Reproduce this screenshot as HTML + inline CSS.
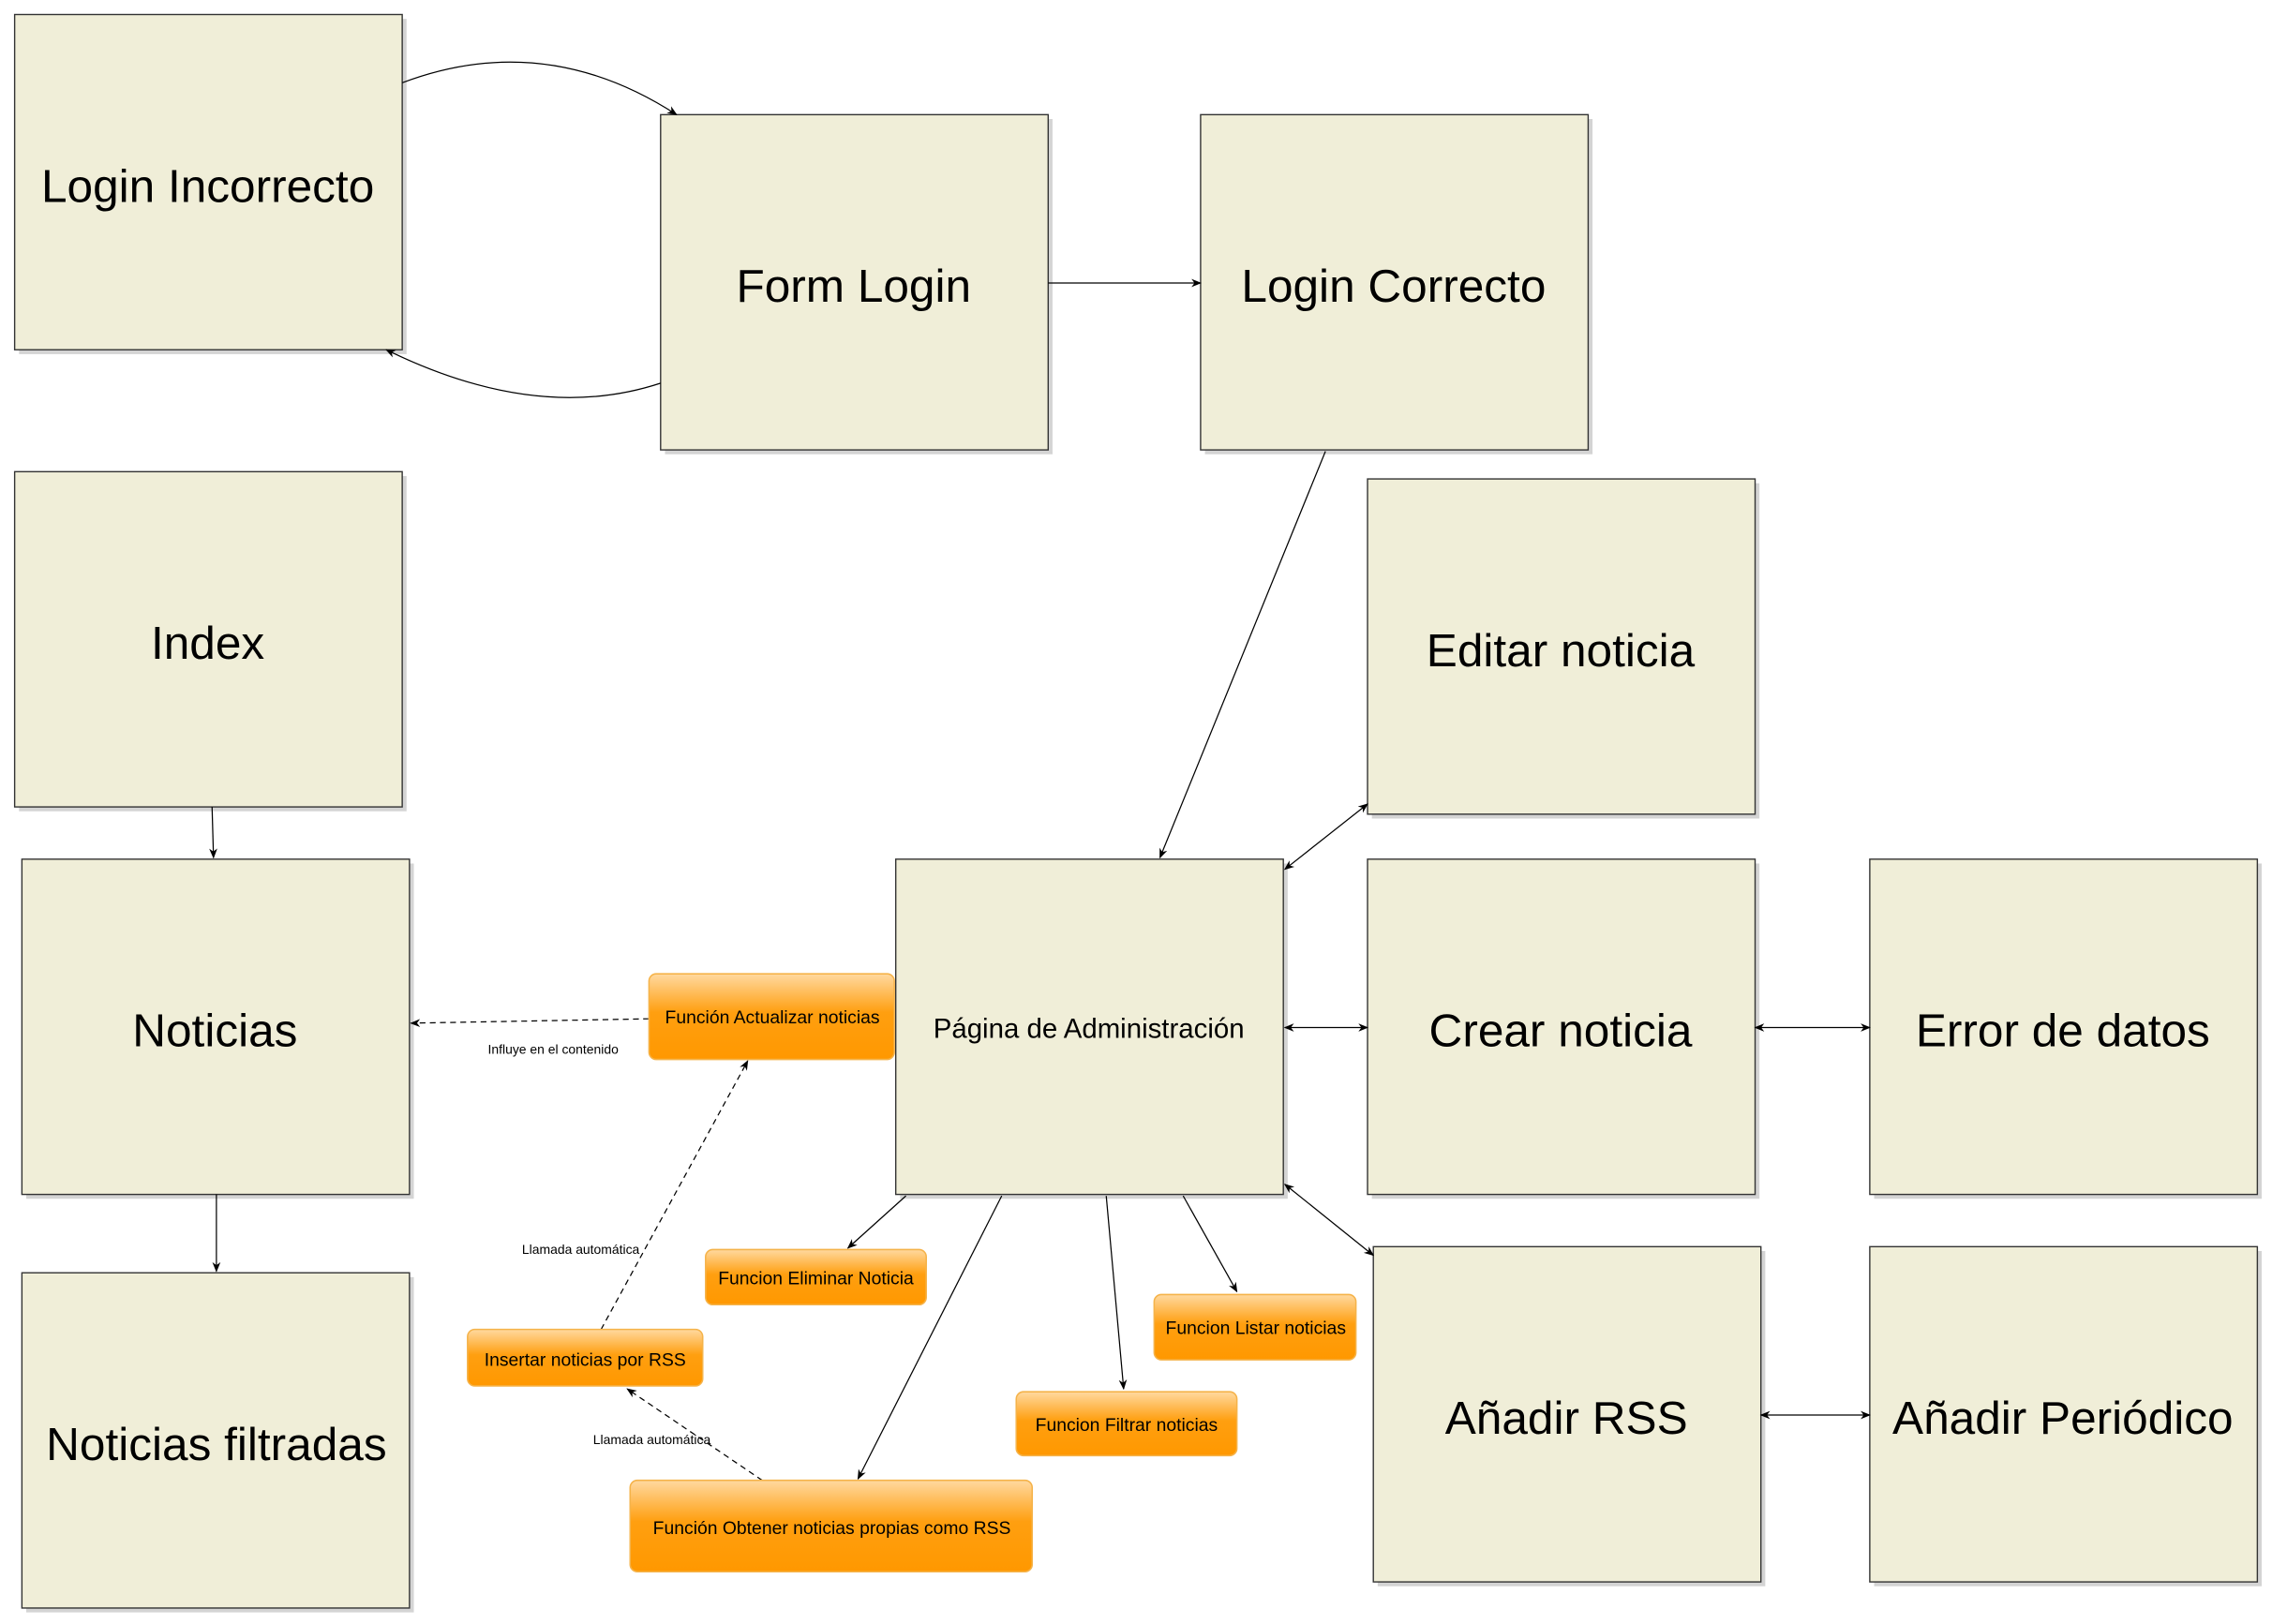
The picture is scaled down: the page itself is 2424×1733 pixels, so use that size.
<!DOCTYPE html>
<html><head><meta charset="utf-8"><style>html,body{margin:0;padding:0;background:#fff}svg{display:block}</style></head>
<body>
<svg width="2424" height="1733" viewBox="0 0 1565 1119" xmlns="http://www.w3.org/2000/svg" font-family="Liberation Sans, sans-serif">
<defs>
<linearGradient id="og" x1="0" y1="0" x2="0" y2="1">
<stop offset="0" stop-color="#ffd9a0"/><stop offset="0.45" stop-color="#ff9f10"/><stop offset="1" stop-color="#ff9800"/>
</linearGradient>
<marker id="a" viewBox="0 0 10 10" refX="9" refY="5" markerWidth="7" markerHeight="7" orient="auto-start-reverse" markerUnits="userSpaceOnUse"><path d="M0,1 L10,5 L0,9 L3,5 z" fill="#000"/></marker>
</defs>
<g id="boxes">
<g fill="#d4d4d4">
<rect x="13" y="13" width="267" height="231"/><rect x="458" y="82" width="267" height="231"/><rect x="830" y="82" width="267" height="231"/>
<rect x="13" y="328" width="267" height="231"/><rect x="945" y="333" width="267" height="231"/><rect x="18" y="595" width="267" height="231"/>
<rect x="620" y="595" width="267" height="231"/><rect x="945" y="595" width="267" height="231"/><rect x="1291" y="595" width="267" height="231"/>
<rect x="18" y="880" width="267" height="231"/><rect x="949" y="862" width="267" height="231"/><rect x="1291" y="862" width="267" height="231"/>
</g>
<g fill="#f0eed8" stroke="#333" stroke-width="0.9">
<rect x="10" y="10" width="267" height="231"/><rect x="455" y="79" width="267" height="231"/><rect x="827" y="79" width="267" height="231"/>
<rect x="10" y="325" width="267" height="231"/><rect x="942" y="330" width="267" height="231"/><rect x="15" y="592" width="267" height="231"/>
<rect x="617" y="592" width="267" height="231"/><rect x="942" y="592" width="267" height="231"/><rect x="1288" y="592" width="267" height="231"/>
<rect x="15" y="877" width="267" height="231"/><rect x="946" y="859" width="267" height="231"/><rect x="1288" y="859" width="267" height="231"/>
</g>
</g>
<g stroke="#000" stroke-width="0.8" fill="none">
<path d="M277,57 Q375,20 466,79" marker-end="url(#a)"/>
<path d="M455,264 Q370,292 266,241" marker-end="url(#a)"/>
<line x1="722" y1="195" x2="827" y2="195" marker-end="url(#a)"/>
<line x1="913" y1="311" x2="799" y2="591" marker-end="url(#a)"/>
<line x1="146" y1="556" x2="147" y2="591" marker-end="url(#a)"/>
<line x1="149" y1="823" x2="149" y2="876" marker-end="url(#a)"/>
<line x1="885" y1="599" x2="942" y2="554" marker-start="url(#a)" marker-end="url(#a)"/>
<line x1="885" y1="708" x2="942" y2="708" marker-start="url(#a)" marker-end="url(#a)"/>
<line x1="1209" y1="708" x2="1288" y2="708" marker-start="url(#a)" marker-end="url(#a)"/>
<line x1="885" y1="816" x2="946" y2="865" marker-start="url(#a)" marker-end="url(#a)"/>
<line x1="1213" y1="975" x2="1288" y2="975" marker-start="url(#a)" marker-end="url(#a)"/>
<line x1="624" y1="824" x2="584" y2="860" marker-end="url(#a)"/>
<line x1="690" y1="824" x2="591" y2="1019" marker-end="url(#a)"/>
<line x1="762" y1="824" x2="774" y2="957" marker-end="url(#a)"/>
<line x1="815" y1="824" x2="852" y2="890" marker-end="url(#a)"/>
<g stroke-dasharray="4,3">
<line x1="447" y1="702" x2="283" y2="705" marker-end="url(#a)"/>
<line x1="414" y1="916" x2="515" y2="731" marker-end="url(#a)"/>
<line x1="525" y1="1020" x2="432" y2="957" marker-end="url(#a)"/>
</g>
</g>
<g font-size="9" fill="#000" text-anchor="middle">
<text x="381" y="726">Influye en el contenido</text>
<text x="400" y="864">Llamada automática</text>
<text x="449" y="995">Llamada automática</text>
</g>
<g font-size="32" fill="#000" text-anchor="middle">
<text x="143" y="139">Login Incorrecto</text>
<text x="588" y="208">Form Login</text>
<text x="960" y="208">Login Correcto</text>
<text x="143" y="454">Index</text>
<text x="1075" y="459">Editar noticia</text>
<text x="148" y="721">Noticias</text>
<text x="1075" y="721">Crear noticia</text>
<text x="1421" y="721">Error de datos</text>
<text x="149" y="1006">Noticias filtradas</text>
<text x="1079" y="988">Añadir RSS</text>
<text x="1421" y="988">Añadir Periódico</text>
<text x="750" y="715" font-size="19">Página de Administración</text>
</g>
<g fill="url(#og)" stroke="#f5b34a" stroke-width="1">
<rect x="447" y="671" width="169" height="59" rx="5"/>
<rect x="486" y="861" width="152" height="38" rx="5"/>
<rect x="322" y="916" width="162" height="39" rx="5"/>
<rect x="795" y="892" width="139" height="45" rx="5"/>
<rect x="700" y="959" width="152" height="44" rx="5"/>
<rect x="434" y="1020" width="277" height="63" rx="5"/>
</g>
<g font-size="12.5" fill="#000" text-anchor="middle">
<text x="532" y="705">Función Actualizar noticias</text>
<text x="562" y="885">Funcion Eliminar Noticia</text>
<text x="403" y="941">Insertar noticias por RSS</text>
<text x="865" y="919">Funcion Listar noticias</text>
<text x="776" y="986">Funcion Filtrar noticias</text>
<text x="573" y="1057">Función Obtener noticias propias como RSS</text>
</g>
</svg>
</body></html>
